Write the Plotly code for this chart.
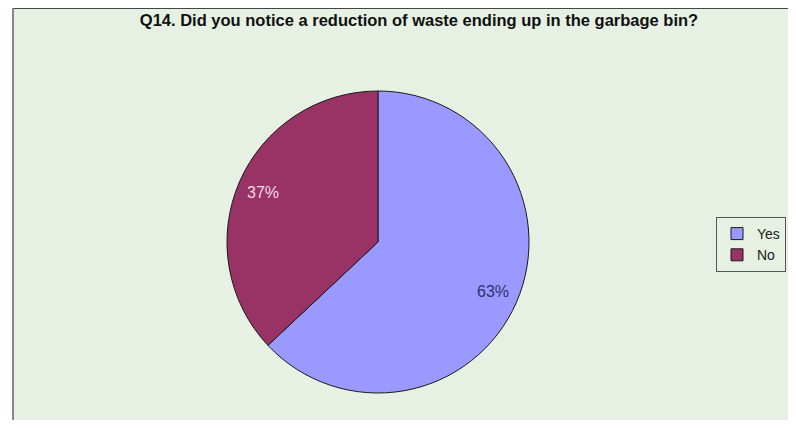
import math
import plotly.graph_objects as go

labels = ["Yes", "No"]
values = [63, 37]
colors = ["#9999ff", "#993366"]
text_colors = ["#30306e", "#f4d8e6"]
title_text = "Q14. Did you notice a reduction of waste ending up in the garbage bin?"

# page body has an 8px margin; figure is drawn at offset (8, 8)
OFF = 8
W, H = 788, 420
bg = "#e6f0e3"


def px(x):
    return (x - OFF) / W


def py(y):
    return 1 - (y - OFF) / H


# pie placement (screen px)
pie_x0, pie_x1 = 227, 529
pie_y0, pie_y1 = 91, 393
cx, cy = (pie_x0 + pie_x1) / 2, (pie_y0 + pie_y1) / 2
radius = (pie_x1 - pie_x0) / 2
label_r = 0.83

fig = go.Figure()
fig.add_trace(go.Pie(
    labels=labels,
    values=values,
    sort=False,
    direction="clockwise",
    rotation=0,
    marker=dict(colors=colors, line=dict(color="#1a1a1a", width=1)),
    textinfo="none",
    domain=dict(x=[px(pie_x0), px(pie_x1)], y=[py(pie_y1), py(pie_y0)]),
    hoverinfo="label+percent",
))

# percentage labels at the mid-angle of each slice
total = sum(values)
annotations = []
start = 0.0
for lab, v, tc in zip(labels, values, text_colors):
    frac = v / total
    mid = (start + frac / 2) * 2 * math.pi  # clockwise from 12 o'clock
    start += frac
    lx = cx + label_r * radius * math.sin(mid)
    ly = cy - label_r * radius * math.cos(mid)
    annotations.append(dict(
        x=px(lx), y=py(ly), xref="paper", yref="paper",
        text=f"{round(frac * 100)}%", showarrow=False,
        xanchor="center", yanchor="middle",
        font=dict(family="Liberation Sans, Arial, sans-serif", size=16, color=tc),
    ))

fig.update_layout(
    width=W, height=H,
    margin=dict(l=0, r=0, t=0, b=0),
    paper_bgcolor="white",
    plot_bgcolor="white",
    title=dict(
        text="<b>" + title_text + "</b>",
        x=px(419), xanchor="center",
        y=py(20), yanchor="middle",
        font=dict(family="Liberation Sans, Arial, sans-serif", size=16.5, color="#111111"),
    ),
    legend=dict(
        x=px(716), xanchor="left",
        y=py(217), yanchor="top",
        bgcolor=bg,
        bordercolor="#555555", borderwidth=1,
        font=dict(family="Liberation Sans, Arial, sans-serif", size=14, color="#222222"),
        itemwidth=30,
        tracegroupgap=0,
    ),
    annotations=annotations,
    shapes=[
        dict(type="rect", xref="paper", yref="paper", layer="below",
             x0=px(13), x1=1.0, y0=py(420), y1=py(8),
             fillcolor=bg, line=dict(width=0)),
        dict(type="line", xref="paper", yref="paper", layer="below",
             x0=px(13), x1=1.0, y0=py(8), y1=py(8),
             line=dict(color="#444444", width=2)),
        dict(type="line", xref="paper", yref="paper", layer="below",
             x0=px(13), x1=px(13), y0=py(420), y1=py(8),
             line=dict(color="#888888", width=2)),
    ],
)

fig.write_html("out.html")
